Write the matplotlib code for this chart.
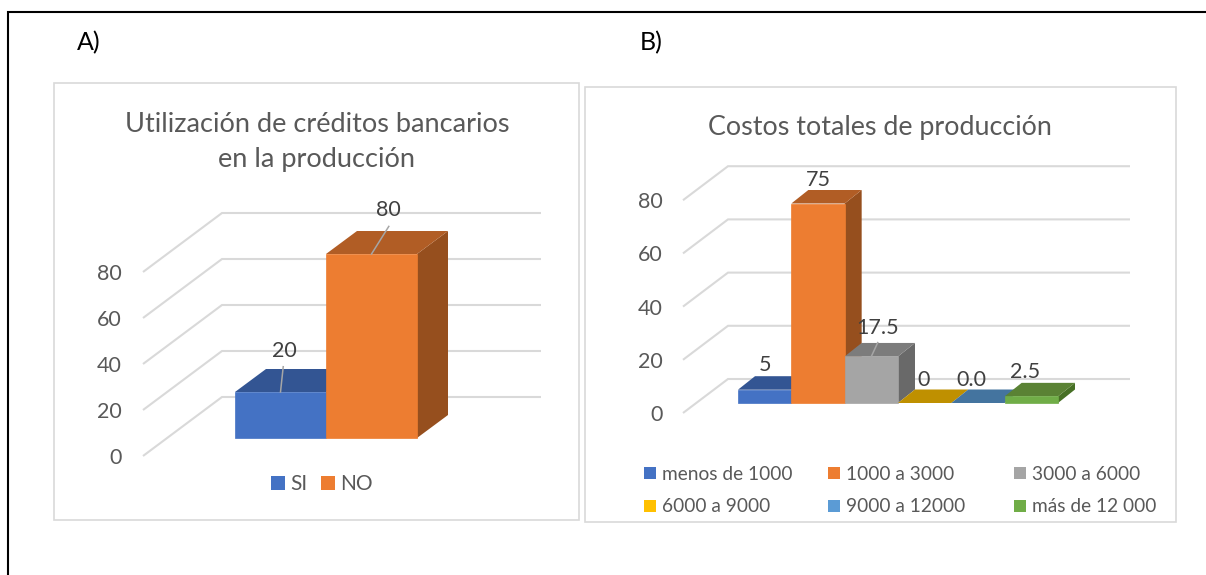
import matplotlib
matplotlib.use("Agg")
import matplotlib.pyplot as plt
from matplotlib.patches import Polygon, Rectangle

W, H = 1206, 575

credit_labels = ["SI", "NO"]
credit_values = [20, 80]
credit_text = ["20", "80"]
credit_front = ["#4472C4", "#ED7D31"]
credit_top = ["#335593", "#B15D25"]
credit_side = ["#2F5090", "#964F1E"]

cost_labels = ["menos de 1000", "1000 a 3000", "3000 a 6000",
               "6000 a 9000", "9000 a 12000", "más de 12 000"]
cost_values = [5, 75, 17.5, 0, 0, 2.5]
cost_text = ["5", "75", "17.5", "0", "0.0", "2.5"]
cost_front = ["#4472C4", "#ED7D31", "#A5A5A5", "#FFC000", "#5B9BD5", "#70AD47"]
cost_top = ["#335593", "#B15D25", "#7C7C7C", "#BF9000", "#44749F", "#5A8234"]
cost_side = ["#2F5090", "#964F1E", "#696969", "#A67C00", "#3D6A90", "#477025"]

axis_ticks = [0, 20, 40, 60, 80]

TEXT = "#595959"
LABEL = "#404040"
GRID = "#D9D9D9"
FONT = "Lato"

fig = plt.figure(figsize=(W / 100, H / 100), dpi=100, facecolor="white")

# Page-level layer measured in pixels: outer rule, chart frames, captions, legends
page = fig.add_axes([0, 0, 1, 1], zorder=0)
page.set_xlim(0, W)
page.set_ylim(H, 0)
page.axis("off")


def chart(left, right, base_y, y_scale, depth, floor, wall_x, grid_right,
          tick_x, values, text, front, top, side, label_pos, leaders):
    """Draw one pseudo-3D column chart; geometry offsets are given in pixels."""
    n = len(values)
    span = y_scale * 80
    ax = fig.add_axes([left / W, 1 - base_y / H, (right - left) / W, span / H], zorder=1)
    ax.set_xlim(0, n)
    ax.set_ylim(0, 80)
    ax.axis("off")
    ax.patch.set_alpha(0)
    per_x = (right - left) / n
    ddx, ddy = depth[0] / per_x, depth[1] / y_scale
    x_f, x_b = (floor[0] - left) / per_x, (wall_x - left) / per_x
    x_r = (grid_right - left) / per_x
    y_f, y_b = (base_y - floor[1]) / y_scale, (base_y - floor[2]) / y_scale
    nudge = 2 / y_scale  # Lato sits slightly high when centred vertically

    for t in axis_ticks:
        ax.plot([x_f, x_b, x_r], [t + y_f, t + y_b, t + y_b], color=GRID, lw=1.5,
                clip_on=False, zorder=1, solid_joinstyle="miter", solid_capstyle="butt")
        ax.text((tick_x - left) / per_x, t + y_f - nudge, str(t), ha="right", va="center",
                fontsize=15.5, color=TEXT, family=FONT, clip_on=False)

    for i, v in enumerate(values):
        z = 2 + i
        if v > 0:
            ax.add_patch(Polygon([(i + 1, 0), (i + 1 + ddx, ddy), (i + 1 + ddx, v + ddy), (i + 1, v)],
                                 closed=True, fc=side[i], ec="none", clip_on=False, zorder=z))
        ax.add_patch(Polygon([(i, v), (i + ddx, v + ddy), (i + 1 + ddx, v + ddy), (i + 1, v)],
                             closed=True, fc=top[i], ec="none", clip_on=False, zorder=z))
        if v > 0:
            ax.bar(i + 0.5, v, width=1, color=front[i], edgecolor=front[i], lw=0.5,
                   clip_on=False, zorder=z)

    for i, v in enumerate(values):
        if leaders[i] is not None:
            ax.plot([i + leaders[i][0], i + leaders[i][1]],
                    [v, v + leaders[i][2]], color="#A6A6A6", lw=1.1,
                    clip_on=False, zorder=20)
        lx, ly = label_pos[i]
        ax.text(i + lx, v + ly - nudge, text[i], ha="center", va="center", fontsize=15.5,
                color=LABEL, family=FONT, clip_on=False, zorder=21)
    return ax


# Chart A: scale is 2.3 px per unit, category width is 91 px
chart(235, 417, 438, 2.3, (31, 23), (143, 456, 397), 222, 541, 122,
      credit_values, credit_text, credit_front, credit_top, credit_side,
      [(0.54, 18.5), (0.68, 20)],
      [(0.5, 0.53, 11), (0.5, 0.69, 12)])

# Chart B: scale is 2.66 px per unit, category width is 53.4 px
chart(738, 1058, 403, 2.66, (17, 13.5), (683, 413, 379), 728, 1130, 663,
      cost_values, cost_text, cost_front, cost_top, cost_side,
      [(0.5, 10), (0.5, 9.5), (0.62, 11.5), (0.47, 9.5), (0.37, 9.5), (0.38, 10)],
      [None, None, (0.5, 0.62, 5.2), None, None, None])

# Outer rule: left and top edges only
page.plot([8, 8, W], [H, 12, 12], color="black", lw=1.5, solid_joinstyle="miter")

# Chart frames
page.add_patch(Rectangle((54, 83), 525, 437, fc="white", ec=GRID, lw=1.2))
page.add_patch(Rectangle((585, 87), 591, 435, fc="white", ec=GRID, lw=1.2))

# Panel captions
page.text(77, 43, "A)", fontsize=18, color="black", va="center", family=FONT)
page.text(640, 43, "B)", fontsize=18, color="black", va="center", family=FONT)

# Chart titles
page.text(317, 124, "Utilización de créditos bancarios", fontsize=19.5, color=TEXT,
          ha="center", va="center", family=FONT)
page.text(317, 160, "en la producción", fontsize=19.5, color=TEXT,
          ha="center", va="center", family=FONT)
page.text(880, 128, "Costos totales de producción", fontsize=19.4, color=TEXT,
          ha="center", va="center", family=FONT)


def legend_entry(x, y, label, colour, box, gap, size):
    page.add_patch(Rectangle((x, y - box / 2), box, box, fc=colour, ec="none"))
    page.text(x + box + gap, y + 1, label, fontsize=size, color=TEXT, va="center", family=FONT)


legend_entry(271, 483, credit_labels[0], credit_front[0], 14, 5, 15)
legend_entry(321, 483, credit_labels[1], credit_front[1], 14, 5, 15)

column_x = [644, 828, 1014]
row_y = [473, 506]
for k, (lab, col) in enumerate(zip(cost_labels, cost_front)):
    legend_entry(column_x[k % 3], row_y[k // 3], lab, col, 12, 6, 13.8)

fig.savefig("out.png", dpi=100, facecolor="white")
